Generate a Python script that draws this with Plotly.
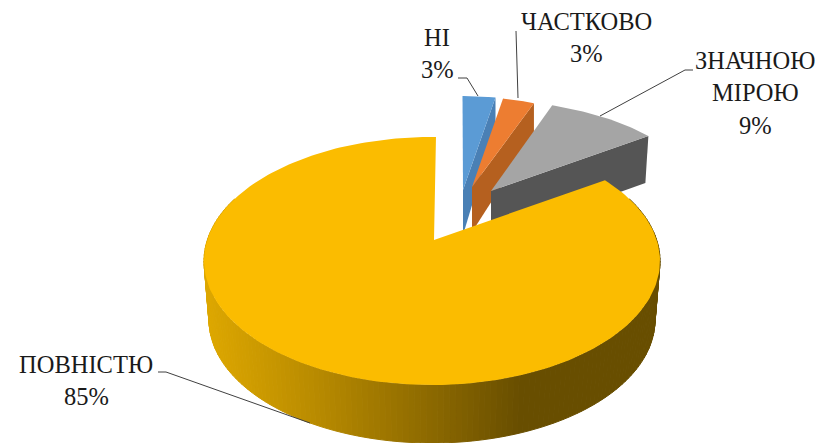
import numpy as np
import plotly.graph_objects as go

categories = ['НІ', 'ЧАСТКОВО', 'ЗНАЧНОЮ МІРОЮ', 'ПОВНІСТЮ']
values = [3, 3, 9, 85]

W, H = 839, 443
PAGE_MARGIN = 8  # default body margin of the written page
FONT = 'Liberation Serif'
FACE = ['#5B9BD5', '#ED7D31', '#A5A5A5', '#FBBC00']
SIDE = ['#4A80B5', '#B5601F', '#555555']

# fake perspective: every slice gets its own rim ellipse, in picture pixels
# (apex x, apex y, ellipse cx, cy, rx, ry, side height at apex, side height at rim, side lean at rim)
SMALL_SLICES = [
    (463, 190, 462.5, 186, 176, 90, 45, 30, 0),
    (472, 187, 471, 187, 171, 90, 45, 32, 0),
    (491, 191, 472, 189, 218, 90, 47, 47, -3),
]
BIG_APEX = (434, 240)
BIG_TOP = (432, 261, 228, 124)
BIG_BOTTOM = (432, 320, 223, 123)
BIG_TURN = 1  # degrees
BIG_WARP = 7  # degrees, rim points pulled towards the top on the far side

# (x position, r, g, b) along the side of the big slice
SIDE_STOPS = [(205, 222, 168, 0), (300, 190, 143, 0), (400, 152, 114, 0),
              (520, 104, 78, 0), (660, 104, 78, 0)]

# text centre x, first line y
LABEL_POS = [(437, 37), (586, 21), (755, 60), (86, 364)]
LEADERS = [
    ([458, 467, 478], [78, 78, 96]),
    ([516, 518], [31, 98]),
    ([693, 685, 600], [70, 70, 116]),
    ([158, 166, 310], [372, 372, 423]),
]
LINE_GAP = 32.5


def polygon(xs, ys, color, line=0):
    return go.Scatter(
        x=list(xs), y=list(ys), mode='lines', fill='toself', fillcolor=color,
        line={'color': color, 'width': line}, hoverinfo='skip', showlegend=False,
    )


def rim(ell, deg):
    cx, cy, rx, ry = ell
    t = np.radians(deg)
    return cx + rx * np.sin(t), cy - ry * np.cos(t)


def big_angle(deg):
    return deg + BIG_TURN - BIG_WARP * np.sin(np.radians(deg))


edges = np.cumsum([0] + values) / sum(values) * 360
fig = go.Figure()

# small slices, back to front: radial side first, face over it
for i, (ax, ay, cx, cy, rx, ry, d_apex, d_rim, lean) in enumerate(SMALL_SLICES):
    ell = (cx, cy, rx, ry)
    ex, ey = rim(ell, edges[i + 1])
    fig.add_trace(polygon([ax, ex, ex + lean, ax, ax], [ay, ey, ey + d_rim, ay + d_apex, ay], SIDE[i]))
    rx_pts, ry_pts = rim(ell, np.linspace(edges[i], edges[i + 1], 30))
    fig.add_trace(polygon([ax, *rx_pts, ax], [ay, *ry_pts, ay], FACE[i]))

# outer wall of the big slice, split in strips for the gradient
stops = np.array(SIDE_STOPS, dtype=float)
strips = np.linspace(60, 300, 161)
for a, b in zip(strips[:-1], strips[1:]):
    tx0, ty0 = rim(BIG_TOP, a)
    tx1, ty1 = rim(BIG_TOP, b)
    bx0, by0 = rim(BIG_BOTTOM, a)
    bx1, by1 = rim(BIG_BOTTOM, b)
    mid = (tx0 + tx1 + bx0 + bx1) / 4
    r, g, bl = [np.interp(mid, stops[:, 0], stops[:, k]) for k in (1, 2, 3)]
    fig.add_trace(polygon([tx0, tx1, bx1, bx0, tx0], [ty0, ty1, by1, by0, ty0],
                          f'rgb({r:.0f},{g:.0f},{bl:.0f})', line=1))

# top of the big slice
big = np.linspace(edges[3], edges[4], 240)
bx_pts, by_pts = rim(BIG_TOP, big_angle(big))
fig.add_trace(polygon([BIG_APEX[0], *bx_pts, BIG_APEX[0]],
                      [BIG_APEX[1], *by_pts, BIG_APEX[1]], FACE[3]))

for lx, ly in LEADERS:
    fig.add_trace(go.Scatter(x=lx, y=ly, mode='lines', line={'color': '#404040', 'width': 1},
                             hoverinfo='skip', showlegend=False))

for name, val, (tx, ty) in zip(categories, values, LABEL_POS):
    lines = name.split(' ') + [f'{val}%']
    for n, text in enumerate(lines):
        fig.add_annotation(x=tx, y=ty + n * LINE_GAP, text=text, showarrow=False,
                           xanchor='center', yanchor='middle',
                           font={'family': FONT, 'size': 24.5, 'color': '#1a1a1a'})

fig.update_layout(
    width=W - PAGE_MARGIN, height=H - PAGE_MARGIN, margin={'l': 0, 'r': 0, 't': 0, 'b': 0},
    paper_bgcolor='white', plot_bgcolor='white', showlegend=False,
    xaxis={'range': [PAGE_MARGIN, W], 'visible': False},
    yaxis={'range': [H, PAGE_MARGIN], 'visible': False},
)
fig.write_html('out.html')
